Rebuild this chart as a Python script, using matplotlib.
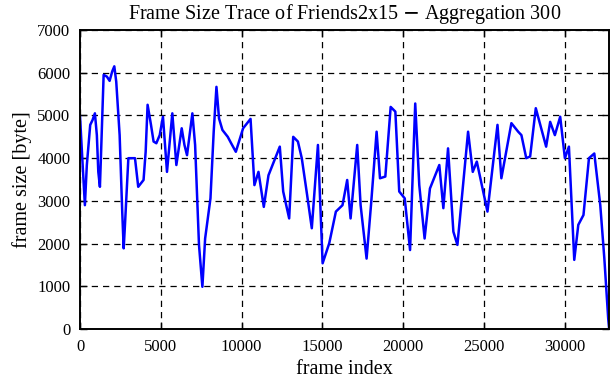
import matplotlib
matplotlib.use('Agg')
import matplotlib.pyplot as plt

# frame trace (aggregation 300)
frame_idx = [0, 150, 300, 420, 630, 770, 920, 1040, 1130, 1230, 1290, 1460, 1660,
             1830, 1990, 2120, 2240, 2450, 2610, 2700, 2780, 2990, 3400, 3600, 3930,
             4060, 4180, 4390, 4550, 4720, 4930, 5130, 5380, 5710, 5960, 6290, 6460,
             6620, 6950, 7120, 7360, 7570, 7740, 8070, 8270, 8440, 8600, 8810, 9140,
             9350, 9640, 10090, 10550, 10790, 11040, 11370, 11660, 12360, 12570,
             12940, 13190, 13480, 13720, 14050, 14340, 14720, 15010, 15420, 15830,
             16240, 16530, 16740, 17150, 17360, 17730, 18020, 18350, 18560, 18890,
             19220, 19510, 19750, 20090, 20420, 20740, 20990, 21320, 21650, 22230,
             22480, 22770, 23100, 23350, 24010, 24300, 24550, 25210, 25830, 26070,
             26690, 27110, 27310, 27610, 27850, 28200, 28840, 29090, 29380, 29710,
             30000, 30250, 30580, 30830, 31150, 31490, 31820, 32190, 32440, 32680,
             32740]
frame_size = [4970, 3920, 2900, 3840, 4780, 4890, 5050, 4540, 3680, 3330, 4000, 5950, 5910,
              5810, 6030, 6150, 5790, 4540, 2750, 1890, 2440, 4000, 4000, 3330, 3490,
              4150, 5250, 4780, 4390, 4350, 4540, 4970, 3680, 5050, 3840, 4700, 4310,
              4070, 5050, 4310, 1970, 990, 2120, 3060, 4620, 5670, 4930, 4660, 4500,
              4350, 4150, 4700, 4920, 3370, 3680, 2860, 3600, 4270, 3220,
              2590, 4500, 4390, 4000, 3140, 2360, 4310, 1540, 2010, 2750,
              2900, 3490, 2590, 4310, 2900, 1650, 2980, 4620, 3530, 3570,
              5200, 5090, 3220, 3060, 1850, 5280, 3370, 2120, 3290, 3840,
              2830, 4230, 2280, 1970, 4620, 3680, 3920, 2750, 4780, 3530,
              4820, 4620, 4540, 4000, 4040, 5170, 4270, 4850, 4540, 4970,
              4000, 4270, 1620, 2440, 2670, 4000, 4110, 2900, 1660, 250,
              0]

x_ticks = [0, 5000, 10000, 15000, 20000, 25000, 30000]
y_ticks = [0, 1000, 2000, 3000, 4000, 5000, 6000, 7000]

plt.rcParams['font.family'] = ['Liberation Serif', 'DejaVu Serif']

fig = plt.figure(figsize=(6.11, 3.80), dpi=100)
ax = fig.add_axes([0.131, 0.134, 0.866, 0.787])

ax.plot(frame_idx, frame_size, color='#0000ff', lw=1.8)

ax.set_xlim(0, frame_idx[-1])
ax.set_ylim(0, 7000)
ax.set_xticks(x_ticks)
ax.set_yticks(y_ticks)
ax.grid(True, color='black', linestyle=(0, (5, 4)), lw=0.9)
ax.tick_params(direction='in', length=5, width=1, top=True, right=True,
               labelsize=12, pad=7)
for sp in ax.spines.values():
    sp.set_linewidth(1.4)

ax.set_title('Frame Size Trace of Friends2x15 $-$ Aggregation 300', fontsize=14.5, pad=8)
ax.set_xlabel('frame index', fontsize=14.5, labelpad=4)
ax.set_ylabel('frame size [byte]', fontsize=14.5, labelpad=4)

fig.savefig('out.png', dpi=100)
